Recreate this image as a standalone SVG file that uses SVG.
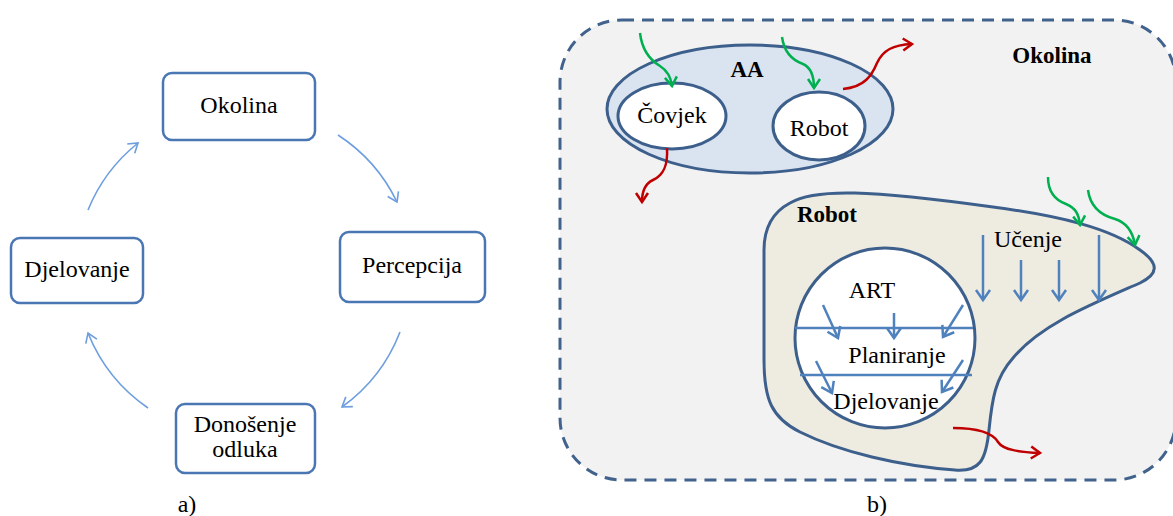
<svg xmlns="http://www.w3.org/2000/svg" width="1173" height="516" viewBox="0 0 1173 516">
<style>
text{font-family:"Liberation Serif","Times New Roman",serif;fill:#000;font-size:24px;text-anchor:middle}
.b{font-weight:bold;font-size:23px}
.box{fill:#fff;stroke:#4a76b4;stroke-width:2.5}
.cyc{fill:none;stroke:#6d9ee0;stroke-width:1.6}
.ell{stroke:#3d5f8c;stroke-width:3}
.bl{fill:none;stroke:#4f81bd;stroke-width:2.5}
.gr{fill:none;stroke:#00b050;stroke-width:2.5}
.rd{fill:none;stroke:#c00000;stroke-width:2.5}
</style>
<defs>
<marker id="mc" markerUnits="userSpaceOnUse" orient="auto" overflow="visible" refX="0" refY="0" markerWidth="10" markerHeight="10"><path d="M-9,-6 L0,0 L-9,6" fill="none" stroke="#6d9ee0" stroke-width="1.6"/></marker>
<marker id="mb" markerUnits="userSpaceOnUse" orient="auto" overflow="visible" refX="0" refY="0" markerWidth="10" markerHeight="10"><path d="M-10,-7 L0,0 L-10,7" fill="none" stroke="#4f81bd" stroke-width="2.5"/></marker>
<marker id="mg" markerUnits="userSpaceOnUse" orient="auto" overflow="visible" refX="0" refY="0" markerWidth="10" markerHeight="10"><path d="M-9,-6 L0,0 L-9,6" fill="none" stroke="#00b050" stroke-width="2.5"/></marker>
<marker id="mr" markerUnits="userSpaceOnUse" orient="auto" overflow="visible" refX="0" refY="0" markerWidth="10" markerHeight="10"><path d="M-9,-6 L0,0 L-9,6" fill="none" stroke="#c00000" stroke-width="2.5"/></marker>
</defs>
<rect width="1173" height="516" fill="#fff"/>

<!-- a) cycle -->
<g id="okolina-a"><rect class="box" x="163" y="73" width="152" height="67" rx="9"/><text x="239" y="113">Okolina</text></g>
<g id="percepcija"><rect class="box" x="340" y="232" width="145" height="70" rx="9"/><text x="412" y="273">Percepcija</text></g>
<g id="donosenje"><rect class="box" x="176" y="404" width="139" height="69" rx="9"/><text x="245" y="432">Donošenje</text><text x="245" y="457">odluka</text></g>
<g id="djelovanje-a"><rect class="box" x="11" y="238" width="132" height="65" rx="9"/><text x="77" y="277">Djelovanje</text></g>
<g id="cycle-connectors">
<path class="cyc" d="M338,135 A166,166 0 0 1 397,202" marker-end="url(#mc)"/>
<path class="cyc" d="M400,332 A166,166 0 0 1 342,407" marker-end="url(#mc)"/>
<path class="cyc" d="M148,408 A166,166 0 0 1 88,333" marker-end="url(#mc)"/>
<path class="cyc" d="M88,210 A166,166 0 0 1 138,143" marker-end="url(#mc)"/>
</g>
<text x="187" y="512">a)</text>

<!-- b) -->
<g id="okolina-b"><rect x="560" y="20" width="616" height="460" rx="62" fill="#f2f2f2" stroke="#41628c" stroke-width="3" stroke-dasharray="12,8"/><text class="b" x="1052" y="63">Okolina</text></g>
<g id="aa"><ellipse class="ell" cx="750" cy="109" rx="143" ry="64" fill="#dae3f0"/><text class="b" x="747" y="77">AA</text></g>
<g id="covjek"><ellipse class="ell" cx="672" cy="116" rx="54" ry="33" fill="#fff"/><text x="672" y="123">Čovjek</text></g>
<g id="robot-aa"><ellipse class="ell" cx="819" cy="126" rx="46" ry="34" fill="#fff"/><text x="819" y="136">Robot</text></g>
<g id="robot"><path class="ell" fill="#eeebe1" d="M790,203 C815,188 870,190 993,207 C1060,216 1110,228 1140,250 C1160,264 1158,274 1140,283 C1090,305 1040,325 1013,358 C995,378 992,400 989,430 C986,460 980,472 955,470 C900,466 840,452 800,432 C772,418 764,400 764,360 L764,250 C764,228 773,212 790,203 Z"/><text class="b" x="827" y="222">Robot</text><text x="1028" y="247">Učenje</text></g>
<g id="art"><circle class="ell" cx="885" cy="338" r="90" fill="#fff"/>
<line class="bl" x1="795" y1="328" x2="973" y2="328"/><line class="bl" x1="800" y1="375" x2="972" y2="375"/>
<text x="872" y="298">ART</text><text x="897" y="363">Planiranje</text><text x="886" y="409">Djelovanje</text></g>

<g id="connectors">
<path class="bl" d="M823,305 L838,338" marker-end="url(#mb)"/>
<path class="bl" d="M894,313 L894,338" marker-end="url(#mb)"/>
<path class="bl" d="M963,305 L943,337" marker-end="url(#mb)"/>
<path class="bl" d="M816,361 L832,393" marker-end="url(#mb)"/>
<path class="bl" d="M963,360 L942,392" marker-end="url(#mb)"/>
<path class="bl" d="M983,235 L983,300" marker-end="url(#mb)"/>
<path class="bl" d="M1021,260 L1021,300" marker-end="url(#mb)"/>
<path class="bl" d="M1059,260 L1059,300" marker-end="url(#mb)"/>
<path class="bl" d="M1099,235 L1099,300" marker-end="url(#mb)"/>
<path class="gr" d="M640,33 C642,50 650,60 660,66 C668,71 671,78 672,86" marker-end="url(#mg)"/>
<path class="gr" d="M782,37 C784,52 792,60 803,64 C812,68 814,78 814,88" marker-end="url(#mg)"/>
<path class="gr" d="M1048,177 C1048,192 1055,200 1066,204 C1076,208 1079,215 1080,225" marker-end="url(#mg)"/>
<path class="gr" d="M1088,190 C1090,205 1100,215 1115,219 C1128,223 1133,233 1135,245" marker-end="url(#mg)"/>
<path class="rd" d="M843,89 C865,87 872,75 877,63 C883,50 893,45 912,44" marker-end="url(#mr)"/>
<path class="rd" d="M667,148 C668,165 664,175 653,180 C644,184 642,192 642,202" marker-end="url(#mr)"/>
<path class="rd" d="M953,428 C975,428 992,432 998,442 C1003,450 1020,452 1040,453" marker-end="url(#mr)"/>
</g>
<text x="877" y="512">b)</text>
</svg>
